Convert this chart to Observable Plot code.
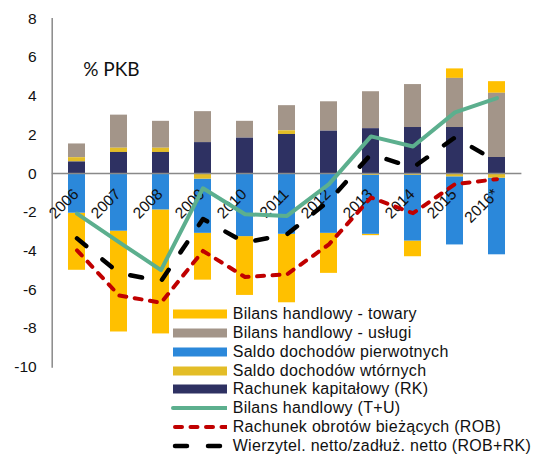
<!DOCTYPE html>
<html>
<head>
<meta charset="utf-8">
<script src="https://cdn.jsdelivr.net/npm/d3@7"></script>
<script src="https://cdn.jsdelivr.net/npm/@observablehq/plot@0.6"></script>
<style>
  html, body { margin: 0; padding: 0; background: #fff; }
  #wrap { position: relative; width: 537px; height: 457px; font-family: "Liberation Sans", Arial, sans-serif; }
  #legend { position: absolute; left: 172.7px; top: 304.6px; }
  .row { display: flex; align-items: center; height: 18.85px; white-space: nowrap; }
  .sw { width: 54px; height: 18.85px; margin-right: 6px; display: flex; align-items: center; }
  .lbl { font-size: 16px; letter-spacing: 0.3px; color: #111; }
</style>
</head>
<body>
<div id="wrap"></div>
<script>
const years = ["2006","2007","2008","2009","2010","2011","2012","2013","2014","2015","2016*"];
const towary    = [-2.95, -5.21, -6.41, -2.42, -3.04, -3.54, -2.07, -0.07, -0.81, 0.49, 0.60];
const uslugi    = [0.71, 1.71, 1.39, 1.60, 0.87, 1.30, 1.52, 1.91, 2.22, 2.54, 3.32];
const pierwotne = [-2.05, -2.98, -1.88, -2.80, -3.26, -3.14, -3.09, -3.05, -3.40, -3.52, -3.96];
const wtorne    = [0.22, 0.22, 0.22, -0.29, 0, 0.19, 0, -0.09, -0.09, -0.17, -0.24];
const rk        = [0.60, 1.09, 1.09, 1.60, 1.83, 2.02, 2.19, 2.32, 2.38, 2.38, 0.83];
const tu        = [-2.07, -3.54, -4.99, -0.76, -2.10, -2.19, -0.55, 1.92, 1.40, 3.16, 3.90];
const rob       = [-3.97, -6.30, -6.68, -4.00, -5.35, -5.21, -3.66, -1.24, -2.05, -0.55, -0.29];
const robrk     = [-3.35, -5.15, -5.56, -2.35, -3.57, -3.14, -1.41, 1.00, 0.31, 1.87, 0.62];
const yTicks = [-10, -8, -6, -4, -2, 0, 2, 4, 6, 8];

const barNames = ["Bilans handlowy - towary","Bilans handlowy - usługi","Saldo dochodów pierwotnych","Saldo dochodów wtórnych","Rachunek kapitałowy (RK)"];
const barColors = ["#FFC000","#A39589","#2B88DA","#E3BD27","#2E3162"];
const barValues = [towary, uslugi, pierwotne, wtorne, rk];
const stackOrder = [barNames[4], barNames[3], barNames[2], barNames[1], barNames[0]];

const lineNames = ["Bilans handlowy (T+U)","Rachunek obrotów bieżących (ROB)","Wierzytel. netto/zadłuż. netto (ROB+RK)"];
const lineColors = ["#5CAF8E","#C00000","#000000"];
const lineValues = [tu, rob, robrk];

const rows = barNames.flatMap((s, i) => years.map((y, j) => ({year: y, series: s, value: barValues[i][j]})));
const lineRows = lineNames.map((s, i) => years.map((y, j) => ({year: y, series: s, value: lineValues[i][j]})));

const chart = Plot.plot({
  width: 537,
  height: 457,
  marginLeft: 51.7,
  marginRight: 15.6,
  marginTop: 18.3,
  marginBottom: 90.5,
  style: {fontFamily: "Liberation Sans, Arial, sans-serif", fontSize: "15px", color: "#111", background: "#fff"},
  x: {type: "band", domain: years, paddingInner: 0.6, paddingOuter: 0.3, axis: null},
  y: {domain: [-10, 8]},
  color: {domain: barNames, range: barColors},
  marks: [
    Plot.barY(rows, Plot.stackY({x: "year", y: "value", fill: "series", order: stackOrder})),
    Plot.ruleY([0], {stroke: "#898989", strokeWidth: 1.5}),
    Plot.frame({anchor: "left", stroke: "#898989", strokeWidth: 1.5}),
    Plot.axisY({ticks: yTicks, tickSize: 0, tickPadding: 15.5, tickFormat: d => String(d), fontSize: 15.5, label: null}),
    Plot.text(years, {x: d => d, y: () => 0, text: d => d, rotate: -45, textAnchor: "end", dx: -1, dy: 18, fontSize: 15.5, fill: "#111"}),
    Plot.line(lineRows[0], {x: "year", y: "value", stroke: lineColors[0], strokeWidth: 4, strokeLinejoin: "round"}),
    Plot.line(lineRows[1], {x: "year", y: "value", stroke: lineColors[1], strokeWidth: 4, strokeDasharray: "7,8.5", strokeLinecap: "round", strokeLinejoin: "round"}),
    Plot.line(lineRows[2], {x: "year", y: "value", stroke: lineColors[2], strokeWidth: 4.5, strokeDasharray: "12,21", strokeLinecap: "round", strokeLinejoin: "round"}),
    Plot.text(["% PKB"], {frameAnchor: "top-left", dx: 31, dy: 44, lineAnchor: "top", textAnchor: "start", fontSize: 19, fontFamily: "Lato, sans-serif", fill: "#111"})
  ]
});

const wrap = document.getElementById("wrap");
wrap.appendChild(chart);

const legend = document.createElement("div");
legend.id = "legend";
function row(name, swatchHTML) {
  const r = document.createElement("div");
  r.className = "row";
  const sw = document.createElement("div");
  sw.className = "sw";
  sw.innerHTML = swatchHTML;
  const l = document.createElement("span");
  l.className = "lbl";
  l.textContent = name;
  r.appendChild(sw); r.appendChild(l);
  legend.appendChild(r);
}
barNames.forEach((n, i) => row(n, `<svg width="54" height="10"><rect x="0" y="0.5" width="54" height="9" fill="${barColors[i]}"/></svg>`));
const dashes = ["none", "7,8.5", "12,21"];
const widths = [4, 4, 4.5];
lineNames.forEach((n, i) => row(n, `<svg width="58" height="10" style="margin-left:-2px"><line x1="${i===0?2:4}" x2="56" y1="5" y2="5" stroke="${lineColors[i]}" stroke-width="${widths[i]}" stroke-linecap="round" stroke-dasharray="${dashes[i]}"/></svg>`));
wrap.appendChild(legend);
</script>
</body>
</html>
